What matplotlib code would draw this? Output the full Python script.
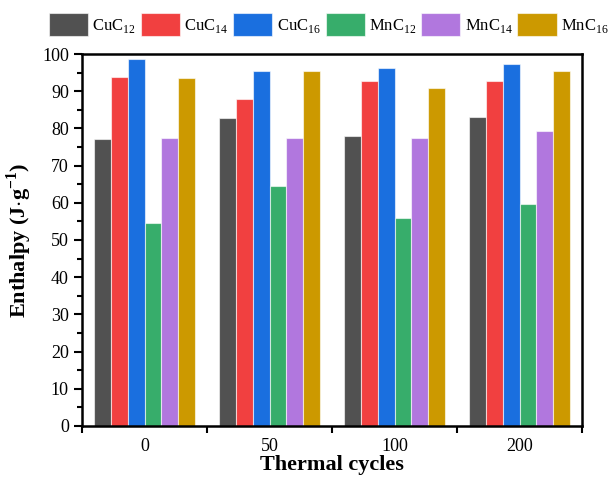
import matplotlib
matplotlib.use("Agg")
import matplotlib.pyplot as plt
import numpy as np
from matplotlib.ticker import MultipleLocator, FixedLocator

plt.rcParams['font.family'] = ['Liberation Serif', 'DejaVu Serif']
plt.rcParams['mathtext.fontset'] = 'custom'
plt.rcParams['mathtext.rm'] = 'Liberation Serif'
plt.rcParams['mathtext.bf'] = 'Liberation Serif:bold'

cycles = ["0", "50", "100", "200"]
series_names = ["CuC$_{12}$", "CuC$_{14}$", "CuC$_{16}$", "MnC$_{12}$", "MnC$_{14}$", "MnC$_{16}$"]
cuc12 = [77.1, 82.7, 78.0, 83.0]
cuc14 = [93.8, 87.8, 92.7, 92.7]
cuc16 = [98.6, 95.4, 96.3, 97.4]
mnc12 = [54.5, 64.4, 55.8, 59.6]
mnc14 = [77.3, 77.3, 77.4, 79.4]
mnc16 = [93.6, 95.3, 90.8, 95.3]
colors = ["#515151", "#F14040", "#1A6FDF", "#37AD6B", "#B177DE", "#CC9900"]

series = [cuc12, cuc14, cuc16, mnc12, mnc14, mnc16]

fig = plt.figure(figsize=(6.12, 4.78), dpi=100)
ax = fig.add_axes([0.134, 0.109, 0.817, 0.778])

x = np.arange(len(cycles))
w = 0.135
for i, (vals, name, c) in enumerate(zip(series, series_names, colors)):
    ax.bar(x + (i - 2.5) * w, vals, width=w, color=c, edgecolor=(1, 1, 1, 0.6),
           linewidth=0.8, label=name)

ax.set_xlim(-0.5, 3.5)
ax.set_ylim(0, 100)
ax.yaxis.set_major_locator(MultipleLocator(10))
ax.yaxis.set_minor_locator(MultipleLocator(5))
ax.xaxis.set_major_locator(FixedLocator([-0.5, 0.5, 1.5, 2.5, 3.5]))
ax.xaxis.set_major_formatter(plt.NullFormatter())
ax.xaxis.set_minor_locator(FixedLocator(x))
ax.set_xticklabels(cycles, minor=True)
ax.tick_params(axis='x', which='minor', length=0, labelsize=13, pad=9)
ax.tick_params(axis='x', which='major', length=5, width=1.5, direction='out')
ax.tick_params(axis='y', which='major', length=6, width=1.5, direction='out', labelsize=13)
ax.tick_params(axis='y', which='minor', length=3.5, width=1.5, direction='out')
for s in ax.spines.values():
    s.set_linewidth(1.8)

ax.set_xlabel("Thermal cycles", fontsize=16, fontweight='bold', labelpad=0)
ax.set_ylabel(r"Enthalpy (J$\mathbf{\cdot}$g$^{\mathbf{-1}}$)", fontsize=16, fontweight='bold', labelpad=6)

fig.legend(loc='center', bbox_to_anchor=(0.537, 0.948), ncol=6, frameon=False,
           fontsize=12, handlelength=2.35, handleheight=1.75, handletextpad=0.25,
           columnspacing=0.3, borderaxespad=0, borderpad=0)

fig.savefig("out.png", dpi=100)
